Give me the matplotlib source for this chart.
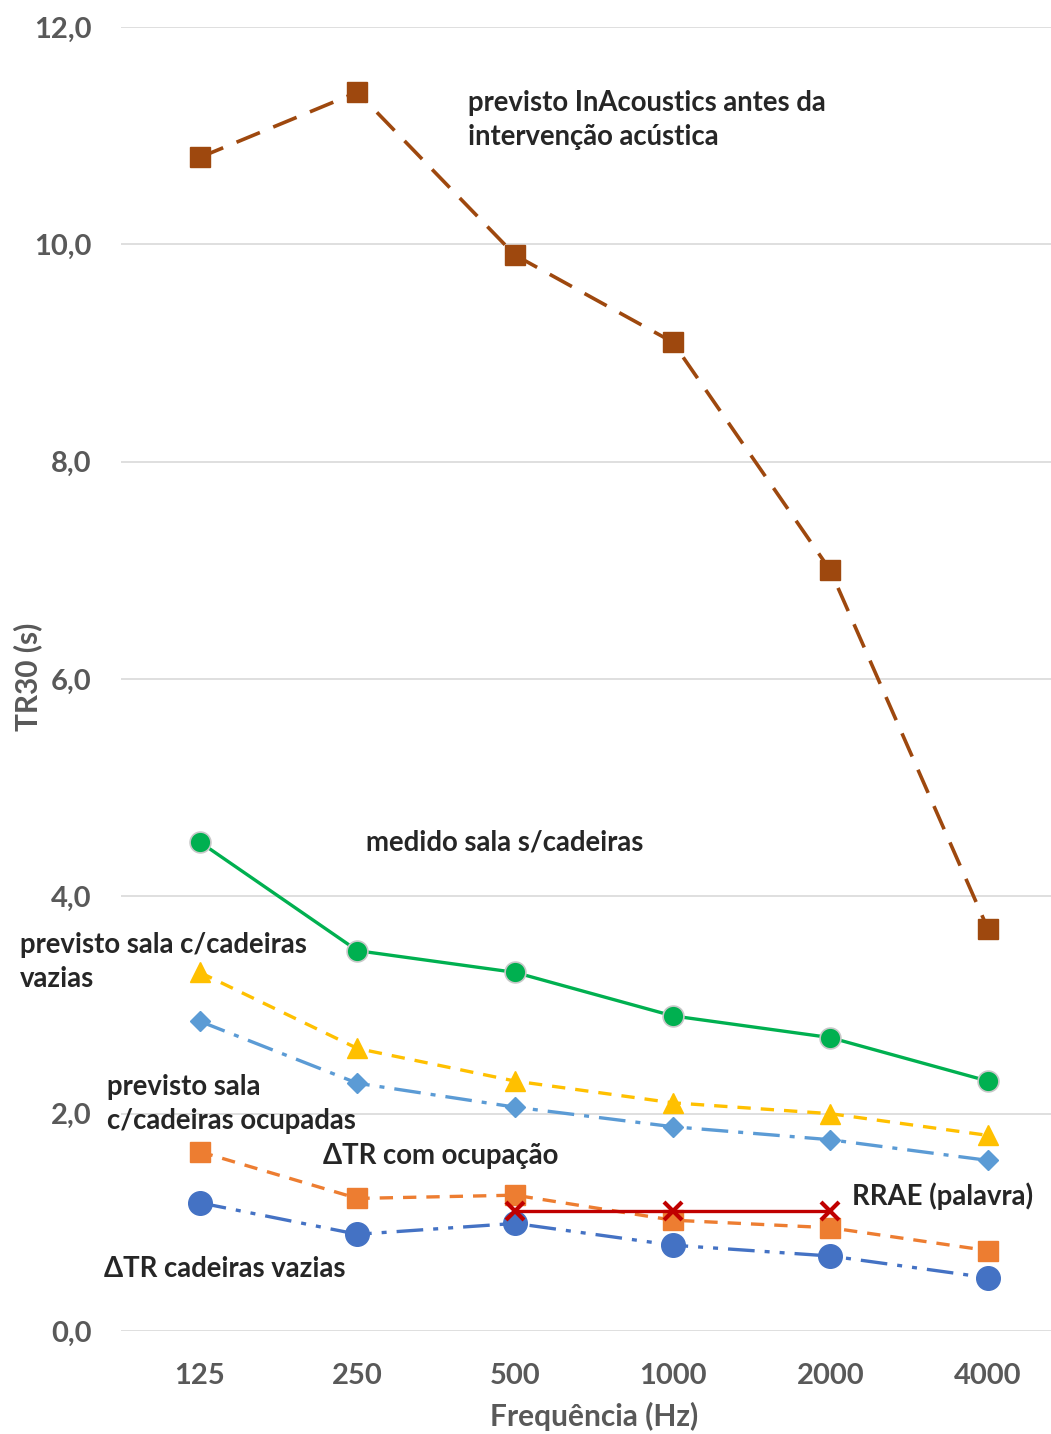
import matplotlib
matplotlib.use("Agg")
import matplotlib.pyplot as plt

plt.rcParams['font.family'] = ['Lato', 'DejaVu Sans']
plt.rcParams['font.weight'] = 'bold'

freqs = ["125", "250", "500", "1000", "2000", "4000"]
previsto_inacoustics = [10.8, 11.4, 9.9, 9.1, 7.0, 3.7]
medido_sem_cadeiras = [4.5, 3.5, 3.3, 2.9, 2.7, 2.3]
previsto_vazias = [3.3, 2.6, 2.3, 2.1, 2.0, 1.8]
previsto_ocupadas = [2.85, 2.28, 2.06, 1.88, 1.76, 1.57]
dtr_ocupacao = [1.65, 1.22, 1.25, 1.02, 0.95, 0.74]
dtr_vazias = [1.18, 0.89, 0.99, 0.79, 0.69, 0.49]
rrae_freqs = ["500", "1000", "2000"]
rrae = [1.1, 1.1, 1.1]
yticks = [0, 2, 4, 6, 8, 10, 12]
ytick_labels = ["0,0", "2,0", "4,0", "6,0", "8,0", "10,0", "12,0"]

W, H = 1051, 1434
fig = plt.figure(figsize=(W / 100, H / 100), dpi=100)
ax = fig.add_axes([121 / W, 1 - 1331 / H, 1 - 121 / W, (1331 - 27) / H])

x = list(range(len(freqs)))
xr = [freqs.index(f) for f in rrae_freqs]

ax.plot(x, previsto_inacoustics, color="#9E480E", lw=2.6, dashes=(7, 4),
        marker="s", ms=15, mfc="#9E480E", mec="#9E480E", zorder=3)
ax.plot(x, medido_sem_cadeiras, color="#00B050", lw=2.4, ls="-",
        marker="o", ms=15, mfc="#00B050", mec="#c8c8c8", mew=1.2, zorder=3)
ax.plot(x, previsto_vazias, color="#FFC000", lw=2.4, dashes=(4, 3),
        marker="^", ms=15, mfc="#FFC000", mec="#FFC000", zorder=3)
ax.plot(x, previsto_ocupadas, color="#5B9BD5", lw=2.4, dashes=(8, 3, 1.5, 3),
        marker="D", ms=10, mfc="#5B9BD5", mec="#5B9BD5", zorder=3)
ax.plot(x, dtr_ocupacao, color="#ED7D31", lw=2.4, dashes=(4, 3),
        marker="s", ms=14, mfc="#ED7D31", mec="#ED7D31", zorder=3)
ax.plot(x, dtr_vazias, color="#4472C4", lw=2.4, dashes=(8, 3, 1.5, 3, 1.5, 3),
        marker="o", ms=17, mfc="#4472C4", mec="#4472C4", zorder=3)
ax.plot(xr, rrae, color="#C00000", lw=2.4, ls="-",
        marker="x", ms=13, mew=3, mec="#C00000", zorder=4)

ax.set_xlim(-0.5, 5.40)
ax.set_ylim(0, 12)
ax.set_xticks(x)
ax.set_xticklabels(freqs)
ax.set_yticks(yticks)
ax.set_yticklabels(ytick_labels)
ax.grid(axis="y", color="#d9d9d9", lw=1.2)
ax.set_axisbelow(True)
for s in ax.spines.values():
    s.set_visible(False)
ax.tick_params(length=0, labelsize=21, colors="#595959")
ax.tick_params(axis="y", pad=21)
ax.tick_params(axis="x", pad=23)
for lab in ax.get_xticklabels() + ax.get_yticklabels():
    lab.set_fontweight("bold")

fig.text(28 / W, 1 - 677 / H, "TR30 (s)", rotation=90, ha="center", va="center",
         fontsize=21.5, color="#595959", fontweight="bold")
fig.text(594 / W, 1 - 1416 / H, "Frequência (Hz)", ha="center", va="center",
         fontsize=21.5, color="#595959", fontweight="bold")

tc = "#262626"
fs = 19.8
def lab(px, py, s):
    fig.text(px / W, 1 - py / H, s, ha="left", va="center", fontsize=fs,
             color=tc, fontweight="bold", linespacing=1.42)

lab(468, 120, "previsto InAcoustics antes da\nintervenção acústica")
lab(366, 842, "medido sala s/cadeiras")
lab(20, 962, "previsto sala c/cadeiras\nvazias")
lab(107, 1104, "previsto sala\nc/cadeiras ocupadas")
lab(323, 1156, "ΔTR com ocupação")
lab(852, 1196, "RRAE (palavra)")
lab(104, 1269, "ΔTR cadeiras vazias")

fig.savefig("out.png", dpi=100)
